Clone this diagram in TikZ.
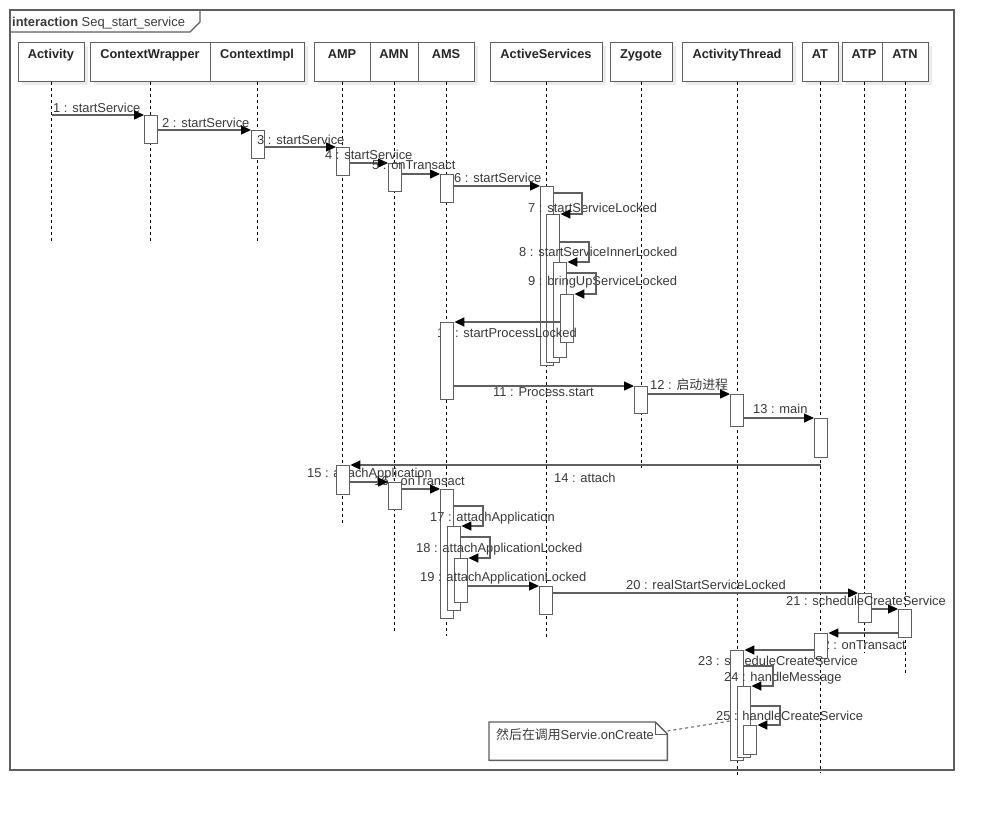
\documentclass[tikz,border=0pt]{standalone}
\usepackage{fontspec}
\setmainfont{Liberation Sans}
\newfontfamily\cjk{Noto Sans CJK SC}
\usetikzlibrary{arrows.meta}
\definecolor{linec}{HTML}{5F5F5F}
\definecolor{txt}{HTML}{3A3A3A}
\definecolor{shad}{HTML}{EBEBEB}
\newcommand{\actbar}[4]{\node[actb, minimum height={(#4-#3)*1pt}] (#1) at (#2,#3) {};}
\newcommand{\lbx}[5]{%
  \fill[shad] (#2+4,46) rectangle (#3+4,85);
  \node[lbox, minimum width={(#3-#2)*1pt}] (#1) at (#2,42) {};
  \node[lname] (n#1) at ({(#2+#3)/2},58) {#4};
  \draw[lifel] (#1.south) -- (#1.south |- 0,#5);}
\begin{document}
\begin{tikzpicture}[x=1pt,y=-1pt, font=\fontsize{12.9}{15}\selectfont,
 lbox/.style={draw=linec, fill=white, line width=1.4pt, inner sep=0pt, anchor=north west, minimum height=39pt},
 lname/.style={font=\fontsize{12.8}{15}\selectfont\bfseries, text=black!85, anchor=base, inner sep=0pt},
 lifel/.style={draw=black, line width=0.8pt, dash pattern=on 3pt off 3pt},
 actb/.style={draw=linec, fill=white, line width=1.4pt, inner sep=0pt, anchor=north west, minimum width=13pt},
 msg/.style={draw=linec, line width=1.4pt, -{Triangle[length=10pt,width=9pt,color=black]}},
 lab/.style={text=txt, inner sep=0pt, anchor=base west},
 labr/.style={text=txt, inner sep=0pt, anchor=base east},
]
\useasboundingbox (0,0) rectangle (994,814);
\fill[white] (0,0) rectangle (994,814);
% frame
\draw[linec, line width=1.4pt] (10,10) rectangle (954,770);
\draw[linec, line width=1.4pt] (10,32) -- (190,32) -- (200,22) -- (200,10);
\node[lab] (hdr) at (12,26) {\textbf{interaction} Seq\_start\_service};
% lifeline boxes
\lbx{bAct}{18}{84}{Activity}{241}
\lbx{bCW}{90}{210}{ContextWrapper}{241}
\lbx{bCI}{210}{304}{ContextImpl}{241}
\lbx{bAMP}{314}{370}{AMP}{523}
\lbx{bAMN}{370}{418}{AMN}{631}
\lbx{bAMS}{418}{474}{AMS}{636}
\lbx{bAS}{490}{602}{ActiveServices}{637}
\lbx{bZy}{610}{672}{Zygote}{468}
\lbx{bATh}{682}{792}{ActivityThread}{775}
\lbx{bAT}{802}{838}{AT}{773}
\lbx{bATP}{842}{886}{ATP}{653}
\lbx{bATN}{882}{928}{ATN}{673}
% messages: label, target activation, line
\node[lab] (t1) at (53,112) {1 : startService};
\actbar{c1}{144}{115}{143}
\draw[msg] (bAct.south |- 0,115) -- (c1.west |- 0,115);
\node[lab] (t2) at (162,127) {2 : startService};
\actbar{c2}{251}{130}{158}
\draw[msg] (c1.east |- 0,130) -- (c2.west |- 0,130);
\node[lab] (t3) at (257,144) {3 : startService};
\actbar{c3}{336}{147}{175}
\draw[msg] (c2.east |- 0,147) -- (c3.west |- 0,147);
\node[lab] (t4) at (325,159) {4 : startService};
\actbar{c4}{388}{163}{191}
\draw[msg] (c3.east |- 0,163) -- (c4.west |- 0,163);
\node[lab] (t5) at (372,169) {5 : onTransact};
\actbar{c5}{440}{174}{202}
\draw[msg] (c4.east |- 0,174) -- (c5.west |- 0,174);
\node[lab] (t6) at (454,182) {6 : startService};
\actbar{c6}{540}{186}{365}
\draw[msg] (c5.east |- 0,186) -- (c6.west |- 0,186);
\node[lab] (t7) at (528,212) {7 : startServiceLocked};
\actbar{c7}{546}{214}{362}
\draw[msg] (c6.east |- 0,193) -- (582,193) -- (582,214) -- (c7.east |- 0,214);
\node[lab] (t8) at (519,256) {8 : startServiceInnerLocked};
\actbar{c8}{553}{262}{357}
\draw[msg] (c7.east |- 0,242) -- (589,242) -- (589,262) -- (c8.east |- 0,262);
\node[lab] (t9) at (528,285) {9 : bringUpServiceLocked};
\actbar{c9}{560}{294}{342}
\draw[msg] (c8.east |- 0,273) -- (596,273) -- (596,294) -- (c9.east |- 0,294);
\node[lab] (t10) at (437,337) {10 : startProcessLocked};
\actbar{c10}{440}{322}{399}
\draw[msg] (c9.west |- 0,322) -- (c10.east |- 0,322);
\node[lab] (t11) at (493,396) {11 : Process.start};
\actbar{c11}{634}{386}{413}
\draw[msg] (c10.east |- 0,386) -- (c11.west |- 0,386);
\node[lab] (t12) at (650,389) {12 : {\cjk 启动进程}};
\actbar{c12}{730}{394}{426}
\draw[msg] (c11.east |- 0,394) -- (c12.west |- 0,394);
\node[lab] (t13) at (753,413) {13 : main};
\actbar{c13}{814}{418}{457}
\draw[msg] (c12.east |- 0,418) -- (c13.west |- 0,418);
\node[lab] (t14) at (554,482) {14 : attach};
\node[lab] (t15) at (307,477) {15 : attachApplication};
\actbar{c14}{336}{465}{494}
\draw[msg] (bAT.south |- 0,465) -- (c14.east |- 0,465);
\node[labr] (t16) at (465,485) {16 : onTransact};
\actbar{c15}{388}{482}{509}
\draw[msg] (c14.east |- 0,482) -- (c15.west |- 0,482);
\actbar{c16}{440}{489}{618}
\draw[msg] (c15.east |- 0,489) -- (c16.west |- 0,489);
\node[lab] (t17) at (430,521) {17 : attachApplication};
\actbar{c17}{447}{526}{610}
\draw[msg] (c16.east |- 0,506) -- (483,506) -- (483,526) -- (c17.east |- 0,526);
\node[lab] (t18) at (416,552) {18 : attachApplicationLocked};
\actbar{c18}{454}{558}{602}
\draw[msg] (c17.east |- 0,537) -- (490,537) -- (490,558) -- (c18.east |- 0,558);
\node[lab] (t19) at (420,581) {19 : attachApplicationLocked};
\actbar{c19}{539}{586}{614}
\draw[msg] (c18.east |- 0,586) -- (c19.west |- 0,586);
\node[lab] (t20) at (626,589) {20 : realStartServiceLocked};
\actbar{c20}{858}{593}{622}
\draw[msg] (c19.east |- 0,593) -- (c20.west |- 0,593);
\node[lab] (t21) at (786,605) {21 : scheduleCreateService};
\actbar{c21}{898}{609}{637}
\draw[msg] (c20.east |- 0,609) -- (c21.west |- 0,609);
\node[labr] (t22) at (906,649) {22 : onTransact};
\actbar{c22}{814}{633}{658}
\draw[msg] (c21.west |- 0,633) -- (c22.east |- 0,633);
\node[lab] (t23) at (698,665) {23 : scheduleCreateService};
\actbar{c23}{730}{650}{760}
\draw[msg] (c22.west |- 0,650) -- (c23.east |- 0,650);
\node[lab] (t24) at (724,681) {24 : handleMessage};
\actbar{c24}{737}{686}{757}
\draw[msg] (c23.east |- 0,666) -- (773,666) -- (773,686) -- (c24.east |- 0,686);
\node[lab] (t25) at (716,720) {25 : handleCreateService};
\actbar{c25}{743}{725}{754}
\draw[msg] (c24.east |- 0,706) -- (780,706) -- (780,725) -- (c25.east |- 0,725);
% note
\node[inner sep=0pt, minimum width=178pt, minimum height=38pt, anchor=north west] (note) at (489,722) {};
\draw[linec, fill=white, line width=1.4pt] (note.south west) -- (note.north west) -- ([xshift=-12pt]note.north east) -- ([yshift=-12pt]note.north east) -- (note.south east) -- cycle;
\draw[linec, line width=1pt] ([xshift=-12pt]note.north east) -- ([xshift=-12pt,yshift=-12pt]note.north east) -- ([yshift=-12pt]note.north east);
\node[lab] (notetxt) at (496,739) {{\cjk 然后在调用}Servie.onCreate};
\draw[linec, line width=1pt, dash pattern=on 3pt off 3pt] ([yshift=-9pt]note.north east) -- (c23.west |- 0,721);
\end{tikzpicture}
\end{document}
